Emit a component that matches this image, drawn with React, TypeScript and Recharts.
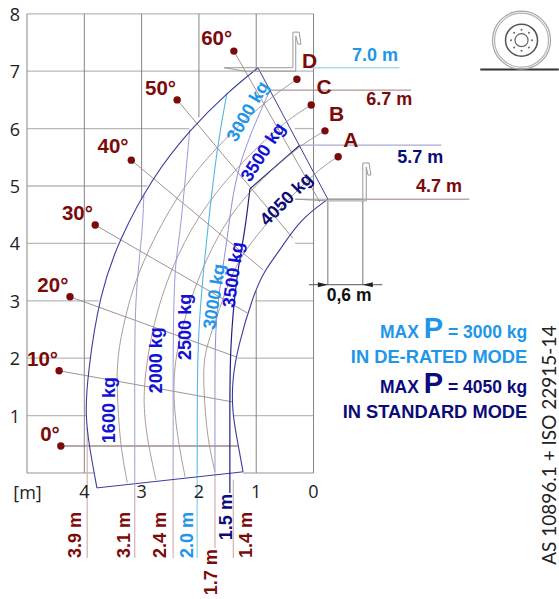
import { ComposedChart, Line, ReferenceLine, Scatter, XAxis, YAxis } from "recharts";

type Pt = { x: number; y: number };
type Seg = [number, number, number, number];
type Lab = { x: number; y: number; text: string; rot?: number };

const pts = (raw: number[][]): Pt[] => raw.map(([x, y]) => ({ x, y }));

// grid values, metres
const xTicks = [0, 1, 2, 3, 4];
const yTicks = [1, 2, 3, 4, 5, 6, 7, 8];

// the grid is cut out where the working envelope sits
const gridH: Seg[] = [
  [5, 8, 0, 8], [5, 7, 0, 7], [5, 6, 2.17, 6], [0.33, 6, 0, 6], [5, 5, 2.9, 5],
  [5, 4, 3.44, 4], [0.32, 4, 0, 4], [5, 3, 3.75, 3], [1.02, 3, 0, 3],
  [5, 2, 3.88, 2], [1.33, 2, 0, 2], [5, 1, 3.96, 1], [1.4, 1, 0, 1],
  [5, 0, 3.82, 0], [1.23, 0, 0, 0],
];
const gridV: Seg[] = [
  [5, 0, 5, 8], [4, 0, 4, 8], [3, 4.76, 3, 8], [2, 6.2, 2, 8],
  [1, 7.03, 1, 8], [1, 0, 1, 3.18], [0, 0, 0, 8],
];

// working envelope
const outerArc = pts([[0.97, 7.06], [0.97, 7.06], [1.49, 6.64], [2.16, 5.98], [2.82, 5.14], [3.38, 4.09], [3.73, 3.14], [3.95, 1.67], [3.98, 1.0], [3.92, 0.5], [3.78, -0.26], [3.78, -0.26]]);
const innerArc = pts([[1.23, 0.02], [1.23, 0.02], [1.32, 0.52], [1.42, 1.05], [1.42, 1.62], [1.32, 2.2], [1.06, 3.08], [0.85, 3.54], [0.58, 3.89], [0.24, 4.41], [-0.25, 4.77], [-0.25, 4.77]]);
const envelopeEdges: Seg[] = [
  [3.78, -0.26, 1.23, 0.02],
  [-0.25, 4.77, 0.97, 7.06],
];

// lifting arcs A-D
const arcA = pts([[-0.43, 5.51], [-0.43, 5.51], [0.01, 5.23], [1.23, 3.92], [1.51, 3.24], [1.77, 2.49], [1.92, 2.02], [1.92, 1.5], [1.86, 0.63], [1.72, 0.02], [1.72, 0.02]]);
const arcB = pts([[-0.2, 5.96], [-0.2, 5.96], [0.24, 5.71], [1.11, 4.95], [1.67, 4.18], [2.1, 3.19], [2.36, 2.32], [2.47, 1.53], [2.38, 0.63], [2.24, -0.07], [2.24, -0.07]]);
const arcC = pts([[0.04, 6.41], [0.04, 6.41], [0.53, 6.11], [1.37, 5.3], [2.02, 4.49], [2.5, 3.54], [2.8, 2.61], [2.96, 1.62], [2.96, 1.05], [2.89, 0.52], [2.75, -0.12], [2.75, -0.12]]);
const arcD = pts([[0.29, 6.86], [0.29, 6.86], [0.81, 6.5], [1.68, 5.71], [2.42, 4.81], [3.06, 3.54], [3.29, 2.72], [3.43, 2.02], [3.43, 1.45], [3.38, 0.52], [3.25, -0.17], [3.25, -0.17]]);

// capacity limits
const limit4050 = pts([[1.11, 4.95], [1.11, 4.95], [1.2, 4.18], [1.34, 3.48], [1.46, 2.2], [1.46, 1.0], [1.46, -0.35], [1.46, -0.35]]);
const limit3500 = pts([[0.76, 6.67], [0.76, 6.67], [1.37, 5.31], [1.49, 4.11], [1.72, 2.79], [1.72, 1.5], [1.72, 0], [1.72, 0]]);
const limit3000 = pts([[1.51, 6.62], [1.51, 6.62], [1.68, 5.71], [1.86, 4.15], [2.02, 2.49], [2.03, 1.2], [2.03, 0], [2.03, 0]]);
const limit2500 = pts([[2.16, 5.98], [2.16, 5.98], [2.33, 4.11], [2.42, 3.66], [2.45, 2.49], [2.45, 1.2], [2.45, -0.07], [2.45, -0.07]]);
const limit2000 = pts([[2.96, 4.84], [2.96, 4.84], [2.99, 4.11], [3.12, 3.07], [3.12, 1.5], [3.12, -0.26], [3.12, -0.26]]);

// boom angle rays: dot, then where the ray stops
const angleRays: Seg[] = [
  [1.39, 7.35, -0.11, 4.72],
  [2.38, 6.5, 0.36, 4.09],
  [3.18, 5.45, 0.88, 3.54],
  [3.81, 4.32, 1.16, 2.79],
  [4.25, 3.07, 1.34, 2.02],
  [4.44, 1.78, 1.42, 1.24],
];
const groundRay: Seg[] = [[4.41, 0.47, 1.32, 0.47]];
const redDots = pts([[1.39, 7.35], [2.38, 6.5], [3.18, 5.45], [3.81, 4.32], [4.25, 3.07], [4.44, 1.78], [4.41, 0.47], [-0.43, 5.51], [-0.2, 5.96], [0.04, 6.41], [0.29, 6.86]]);

// forks
const forkHigh = pts([[1.56, 7.06], [0.36, 7.06], [0.36, 7.68], [0.25, 7.68], [0.22, 7.47], [0.27, 7.47], [0.31, 7.61], [0.31, 7.0], [1.2, 7.0], [1.56, 7.06]]);
const forkLow = pts([[0.32, 4.77], [-0.86, 4.77], [-0.86, 5.4], [-0.97, 5.4], [-1.0, 5.19], [-0.95, 5.19], [-0.92, 5.33], [-0.92, 4.74], [-0.25, 4.74], [0.32, 4.77]]);

// reach and height call-outs
const dropBrown: Seg[] = [
  [3.95, 0.8, 3.95, -1.48],
  [3.12, -0.26, 3.12, -1.48],
  [2.45, -0.07, 2.45, -1.48],
  [1.72, 0, 1.72, -1.31],
  [1.4, -0.12, 1.4, -1.48],
];
const dropCyan: Seg[] = [[2.03, 0, 2.03, -1.48]];
const heightBrown: Seg[] = [
  [0.76, 6.67, -1.7, 6.67],
  [-0.25, 4.77, -2.72, 4.77],
];
const heightNavy: Seg[] = [[0.24, 5.71, -2.23, 5.71]];
const heightCyan: Seg[] = [[0.11, 7.06, -1.5, 7.06]];
const heightNavyEdge: Seg[] = [[0.24, 5.71, 1.11, 4.95]];

const dimLines: Seg[] = [
  [-0.25, 4.74, -0.25, 3.28],
  [-0.86, 4.74, -0.86, 3.28],
];
const dimBar: Seg[] = [[0.08, 3.28, -1.2, 3.28]];
const dimArrows = [
  { x: -0.25, y: 3.28, dir: 1 },
  { x: -0.86, y: 3.28, dir: -1 },
];

const angleLabels: Lab[] = [
  { x: 1.96, y: 7.46, text: "60°" },
  { x: 2.94, y: 6.59, text: "50°" },
  { x: 3.77, y: 5.57, text: "40°" },
  { x: 4.39, y: 4.41, text: "30°" },
  { x: 4.82, y: 3.15, text: "20°" },
  { x: 5.0, y: 1.86, text: "10°" },
  { x: 4.77, y: 0.56, text: "0°" },
];
const letterLabels: Lab[] = [
  { x: -0.52, y: 5.68, text: "A" },
  { x: -0.27, y: 6.13, text: "B" },
  { x: -0.05, y: 6.6, text: "C" },
  { x: 0.2, y: 7.06, text: "D" },
];
const redHeights: Lab[] = [
  { x: -0.92, y: 6.41, text: "6.7 m" },
  { x: -1.79, y: 4.9, text: "4.7 m" },
];
const navyHeights: Lab[] = [
  { x: -1.46, y: 5.4, text: "5.7 m" },
  { x: 1.43, y: -1.17, text: "1.5 m", rot: -90 },
  { x: 0.81, y: 4.29, text: "4050 kg", rot: -45 },
];
const cyanLabels: Lab[] = [
  { x: -0.67, y: 7.18, text: "7.0 m" },
  { x: 2.1, y: -1.48, text: "2.0 m", rot: -90 },
  { x: 1.72, y: 2.49, text: "3000 kg", rot: -81 },
  { x: 1.35, y: 5.75, text: "3000 kg", rot: -60 },
];
const redReach: Lab[] = [
  { x: 4.06, y: -1.48, text: "3.9 m", rot: -90 },
  { x: 3.2, y: -1.48, text: "3.1 m", rot: -90 },
  { x: 2.57, y: -1.48, text: "2.4 m", rot: -90 },
  { x: 1.68, y: -2.13, text: "1.7 m", rot: -90 },
  { x: 1.07, y: -1.48, text: "1.4 m", rot: -90 },
];
const blueLoads: Lab[] = [
  { x: 3.46, y: 0.52, text: "1600 kg", rot: -90 },
  { x: 2.64, y: 1.39, text: "2000 kg", rot: -90 },
  { x: 2.14, y: 1.97, text: "2500 kg", rot: -90 },
  { x: 1.38, y: 2.87, text: "3500 kg", rot: -82 },
  { x: 1.11, y: 5.05, text: "3500 kg", rot: -57 },
];
const dimLabel: Lab[] = [{ x: -0.23, y: 3.0, text: "0,6 m" }];
const unitLabel: Lab[] = [{ x: 5.24, y: -0.45, text: "[m]" }];
const standardLabel: Lab[] = [{ x: -4.23, y: -1.6, text: "AS 10896.1 + ISO 22915-14", rot: -90 }];
const modeCyan: Lab[] = [{ x: -3.73, y: 1.92, text: "IN DE-RATED MODE" }];
const modeNavy: Lab[] = [{ x: -3.73, y: 0.96, text: "IN STANDARD MODE" }];
const maxCyan: Lab[] = [{ x: -3.73, y: 2.35, text: "= 3000 kg" }];
const maxNavy: Lab[] = [{ x: -3.73, y: 1.39, text: "= 4050 kg" }];

// tyre pictogram
const wheel = pts([[-3.63, 7.54]]);
const wheelGround: Seg[] = [[-2.91, 7.03, -4.28, 7.03]];
const boltAngles = [0, 45, 90, 135, 180, 225, 270, 315];

const RED = "#7b0a0a";
const NAVY = "#0b0b7a";
const BLUE = "#1212d6";
const CYAN = "#2196e9";
const SANS = "'Liberation Sans', Arial, sans-serif";

const textShape =
  (fill: string, size: number, anchor = "start", family = SANS, weight = 700) =>
  (p: any) => {
    const rot = p.payload.rot ?? 0;
    return (
      <text
        x={p.cx}
        y={p.cy}
        fill={fill}
        fontSize={size}
        fontFamily={family}
        fontWeight={weight}
        textAnchor={anchor}
        transform={rot ? `rotate(${rot} ${p.cx} ${p.cy})` : undefined}
      >
        {p.payload.text}
      </text>
    );
  };

const maxShape = (fill: string) => (p: any) => (
  <text x={p.cx} y={p.cy} fill={fill} fontFamily={SANS} fontWeight={700} textAnchor="end" fontSize={17.5}>
    MAX <tspan fontSize={29}>P</tspan> {p.payload.text}
  </text>
);

const arrowShape = (p: any) => {
  const d = p.payload.dir;
  return (
    <polygon
      points={`${p.cx},${p.cy} ${p.cx - d * 10},${p.cy - 2.5} ${p.cx - d * 10},${p.cy + 2.5}`}
      fill="#222"
    />
  );
};

const dotShape = (p: any) => <circle cx={p.cx} cy={p.cy} r={3.7} fill={RED} />;

const wheelShape = (p: any) => (
  <g fill="none">
    <circle cx={p.cx} cy={p.cy} r={29} stroke="#a5a5a5" strokeWidth={1.2} />
    <circle cx={p.cx} cy={p.cy} r={27} stroke="#b5b5b5" strokeWidth={1.2} />
    <circle cx={p.cx} cy={p.cy} r={16} stroke="#555" strokeWidth={1.5} />
    <circle cx={p.cx} cy={p.cy} r={6.5} stroke="#666" strokeWidth={1.2} />
    {boltAngles.map((a) => (
      <circle
        key={a}
        cx={p.cx + 10.5 * Math.cos((a * Math.PI) / 180)}
        cy={p.cy + 10.5 * Math.sin((a * Math.PI) / 180)}
        r={1}
        fill="#666"
      />
    ))}
  </g>
);

const segs = (list: Seg[], stroke: string, width: number, prefix: string) =>
  list.map(([x1, y1, x2, y2], i) => (
    <ReferenceLine
      key={`${prefix}${i}`}
      segment={[{ x: x1, y: y1 }, { x: x2, y: y2 }]}
      stroke={stroke}
      strokeWidth={width}
    />
  ));

const curve = (data: Pt[], stroke: string, width: number, key: string, type: any = "basis") => (
  <Line
    key={key}
    data={data}
    dataKey="y"
    type={type}
    stroke={stroke}
    strokeWidth={width}
    dot={false}
    activeDot={false}
    isAnimationActive={false}
    legendType="none"
  />
);

const labels = (data: any[], shape: any, key: string) => (
  <Scatter key={key} data={data} shape={shape} isAnimationActive={false} legendType="none" />
);

export default function App() {
  return (
    <div style={{ position: "absolute", left: 0, top: 0, width: 559, height: 599, background: "#fff" }}>
      <ComposedChart width={559} height={599} margin={{ top: 0, right: 0, bottom: 0, left: 0 }}>
        <XAxis
          dataKey="x"
          type="number"
          reversed
          domain={[-4.284, 5.454]}
          ticks={xTicks}
          interval={0}
          height={1}
          axisLine={false}
          tickLine={false}
          allowDataOverflow
          tick={(p: any) => (
            <text x={p.x} y={498} textAnchor="middle" fontSize={18} fontFamily="'Open Sans'" fill="#222">
              {p.payload.value}
            </text>
          )}
        />
        <YAxis
          dataKey="y"
          type="number"
          domain={[-2.178, 8.24]}
          ticks={yTicks}
          interval={0}
          width={1}
          axisLine={false}
          tickLine={false}
          allowDataOverflow
          tick={(p: any) => (
            <text x={15} y={p.y + 7} textAnchor="middle" fontSize={18} fontFamily="'Open Sans'" fill="#222">
              {p.payload.value}
            </text>
          )}
        />

        {segs(gridH, "#b9b9b9", 1.3, "gh")}
        {segs(gridV, "#858585", 1, "gv")}
        {segs(angleRays, "#9a8585", 0.9, "ray")}
        {segs(groundRay, "#6d5555", 1, "ray0")}
        {segs(dropBrown, "#cfa9a9", 1.1, "drop")}
        {segs(dropCyan, "#a5d8f2", 1.5, "dropc")}
        {segs(heightBrown, "#9a7d7d", 1, "hb")}
        {segs(heightNavy, "#a9a9d2", 1.3, "hn")}
        {segs(heightCyan, "#a9dcf2", 1.3, "hc")}
        {segs(heightNavyEdge, "#23237f", 1.2, "he")}
        {segs(dimLines, "#777", 1, "dim")}
        {segs(dimBar, "#555", 1, "dimb")}
        {segs(envelopeEdges, "#3c3ca0", 1, "env")}
        {segs(wheelGround, "#333", 2, "wg")}

        {curve(arcA, "#a58f8f", 0.9, "arcA")}
        {curve(arcB, "#a58f8f", 0.9, "arcB")}
        {curve(arcC, "#a58f8f", 0.9, "arcC")}
        {curve(arcD, "#a58f8f", 0.9, "arcD")}
        {curve(limit2000, "#9a9ad8", 1, "l2000")}
        {curve(limit2500, "#9a9ad8", 1, "l2500")}
        {curve(limit3500, "#8f8fd8", 1, "l3500")}
        {curve(limit3000, "#55b8e4", 1.1, "l3000")}
        {curve(limit4050, "#1f1f86", 1.2, "l4050")}
        {curve(outerArc, "#3c3ca0", 1.1, "outer")}
        {curve(innerArc, "#3c3ca0", 1.1, "inner")}
        {curve(forkHigh, "#9a9a9a", 1, "forkHigh", "linear")}
        {curve(forkLow, "#9a9a9a", 1, "forkLow", "linear")}

        {labels(redDots, dotShape, "dots")}
        {labels(dimArrows, arrowShape, "arrows")}
        {labels(wheel, wheelShape, "wheel")}
        {labels(angleLabels, textShape(RED, 20.5), "angles")}
        {labels(letterLabels, textShape(RED, 21), "letters")}
        {labels(redHeights, textShape(RED, 18), "redH")}
        {labels(redReach, textShape(RED, 18), "redR")}
        {labels(navyHeights, textShape(NAVY, 18), "navy")}
        {labels(cyanLabels, textShape(CYAN, 18), "cyan")}
        {labels(blueLoads, textShape(BLUE, 18), "blue")}
        {labels(dimLabel, textShape("#111", 17.5), "dimL")}
        {labels(unitLabel, textShape("#222", 18, "start", "'Open Sans'", 400), "unit")}
        {labels(standardLabel, textShape("#222", 19, "start", "Lato", 400), "std")}
        {labels(maxCyan, maxShape(CYAN), "maxC")}
        {labels(maxNavy, maxShape(NAVY), "maxN")}
        {labels(modeCyan, textShape(CYAN, 18.3, "end"), "modeC")}
        {labels(modeNavy, textShape(NAVY, 18.3, "end"), "modeN")}
      </ComposedChart>
    </div>
  );
}
